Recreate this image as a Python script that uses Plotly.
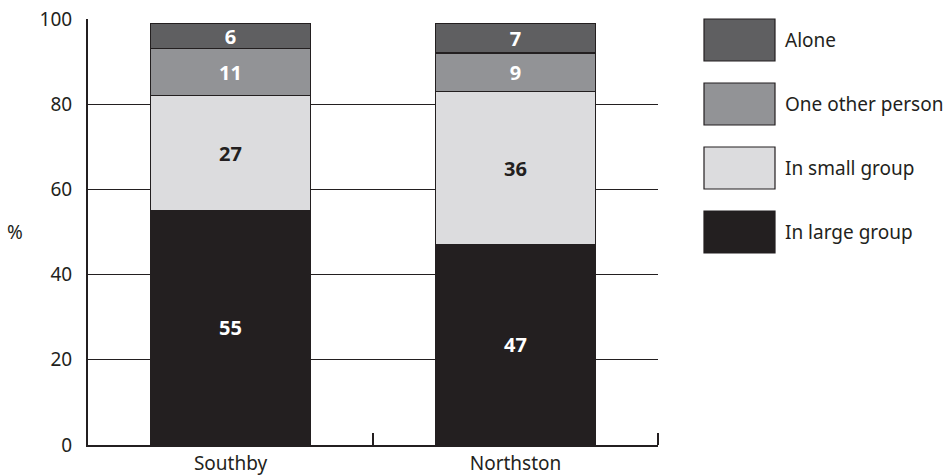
import plotly.graph_objects as go

categories = ["Southby", "Northston"]
series_names = ["In large group", "In small group", "One other person", "Alone"]
large_group = [55, 47]
small_group = [27, 36]
one_other = [11, 9]
alone = [6, 7]
y_ticks = [0, 20, 40, 60, 80, 100]

values = [large_group, small_group, one_other, alone]
fills = ["#231f20", "#dcdcde", "#929396", "#5f5f61"]
text_colors = ["white", "#231f20", "white", "white"]

FONT = "Noto Sans"

fig = go.Figure()
for name, vals, fc, tc in zip(series_names, values, fills, text_colors):
    fig.add_trace(go.Bar(
        x=categories, y=vals, name=name,
        marker=dict(color=fc, line=dict(color="#231f20", width=1.2)),
        text=vals, texttemplate="<b>%{text}</b>", textposition="inside",
        insidetextanchor="middle", textangle=0, constraintext="none",
        textfont=dict(color=tc, size=20, family=FONT),
        width=0.56, showlegend=False,
    ))

fig.update_layout(
    barmode="stack",
    width=950, height=476,
    margin=dict(l=88, r=292, t=19, b=31, autoexpand=False),
    plot_bgcolor="white", paper_bgcolor="white",
    font=dict(family=FONT, size=20, color="#231f20"),
)
fig.update_xaxes(
    type="category", range=[-0.5, 1.5], automargin=False,
    showline=True, linecolor="#231f20", linewidth=2,
    ticks="inside", tickson="boundaries", ticklen=12, tickwidth=2, tickcolor="#231f20",
    showgrid=False, tickfont=dict(size=19, family=FONT),
)
fig.update_yaxes(
    range=[0, 100], tickvals=y_ticks, automargin=False,
    showline=True, linecolor="#231f20", linewidth=2,
    showgrid=True, gridcolor="#231f20", gridwidth=1,
    ticks="", ticklabelstandoff=10, zeroline=False,
    tickfont=dict(size=19, family=FONT),
)

fig.add_annotation(text="%", xref="paper", yref="paper", x=-0.128, y=0.5,
                   showarrow=False, xanchor="center", yanchor="middle",
                   font=dict(size=19, family=FONT))

px_w = 950 - 88 - 292
px_h = 476 - 19 - 31
def px_to_paper_x(px):
    return (px - 88) / px_w
def px_to_paper_y(py):
    return 1 - (py - 19) / px_h

# closing tick at the right end of the category axis
fig.add_shape(type="line", xref="paper", yref="paper",
              x0=1, x1=1, y0=0, y1=12 / px_h,
              line=dict(color="#231f20", width=2))

# Legend drawn with large swatches (top to bottom: Alone ... In large group)
tops = [19, 83, 147, 211]
order = list(range(len(series_names)))[::-1]
for top, idx in zip(tops, order):
    fig.add_shape(type="rect", xref="paper", yref="paper",
                  x0=px_to_paper_x(704), x1=px_to_paper_x(775),
                  y0=px_to_paper_y(top + 42), y1=px_to_paper_y(top),
                  fillcolor=fills[idx], line=dict(color="#231f20", width=1.2))
    fig.add_annotation(text=series_names[idx], xref="paper", yref="paper",
                       x=px_to_paper_x(783), y=px_to_paper_y(top + 21),
                       xanchor="left", yanchor="middle", showarrow=False,
                       font=dict(size=19, family=FONT))

fig.write_html("out.html",
               config={"displayModeBar": False, "staticPlot": True},
               post_script="document.body.style.margin='0';document.body.style.overflow='hidden';")
